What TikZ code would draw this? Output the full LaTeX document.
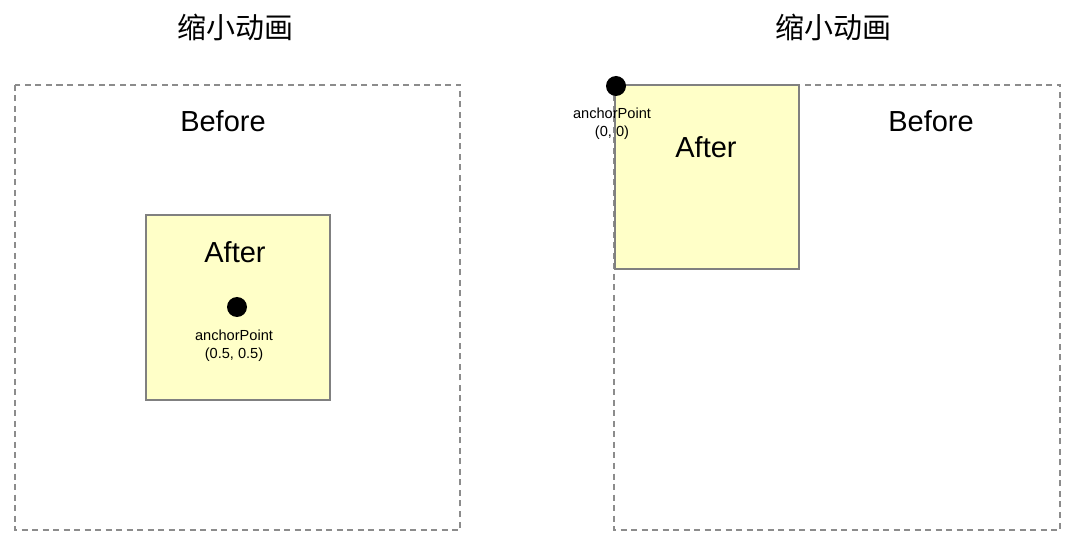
\documentclass[tikz,border=0pt]{standalone}
\usepackage{fontspec}
\setmainfont{Liberation Sans}
\newfontfamily\cjk{Noto Sans CJK SC}
\definecolor{dashgray}{HTML}{8C8C8C}
\definecolor{boxgray}{HTML}{808080}
\definecolor{stickyfill}{HTML}{FFFFC8}
\begin{document}
\begin{tikzpicture}[x=1pt,y=-1pt,
  frame/.style={draw=dashgray,line width=1.2pt,dash pattern=on 6pt off 4.5pt},
  afterbox/.style={draw=boxgray,fill=stickyfill,line width=1.2pt},
  title/.style={font=\cjk\fontsize{29}{34}\selectfont,inner sep=0pt},
  big/.style={font=\fontsize{29}{34}\selectfont,inner sep=0pt},
  small/.style={font=\fontsize{14.6}{18}\selectfont,align=center,inner sep=0pt},
  dot/.style={circle,fill=black,minimum size=20pt,inner sep=0pt}]
\useasboundingbox (0,0) rectangle (1080,545);
% titles
\node[title] (t1) at (235,27) {缩小动画};
\node[title] (t2) at (833,27) {缩小动画};
% left
\draw[frame] (15,85) rectangle (460,530);
\node[big] (b1) at (223,121) {Before};
\draw[afterbox] (146,215) rectangle (330,400);
\node[big] (a1) at (235,252) {After};
\node[dot] (d1) at (237,307) {};
\node[small] (l1) at (234,346) {anchorPoint\\(0.5, 0.5)};
% right
\draw[frame] (614,85) rectangle (1060,530);
\draw[afterbox] (615,85) rectangle (799,269);
\node[big] (b2) at (931,121) {Before};
\node[big] (a2) at (706,147) {After};
\node[dot] (d2) at (616,86) {};
\node[small] (l2) at (612,124) {anchorPoint\\(0, 0)};
\end{tikzpicture}
\end{document}
